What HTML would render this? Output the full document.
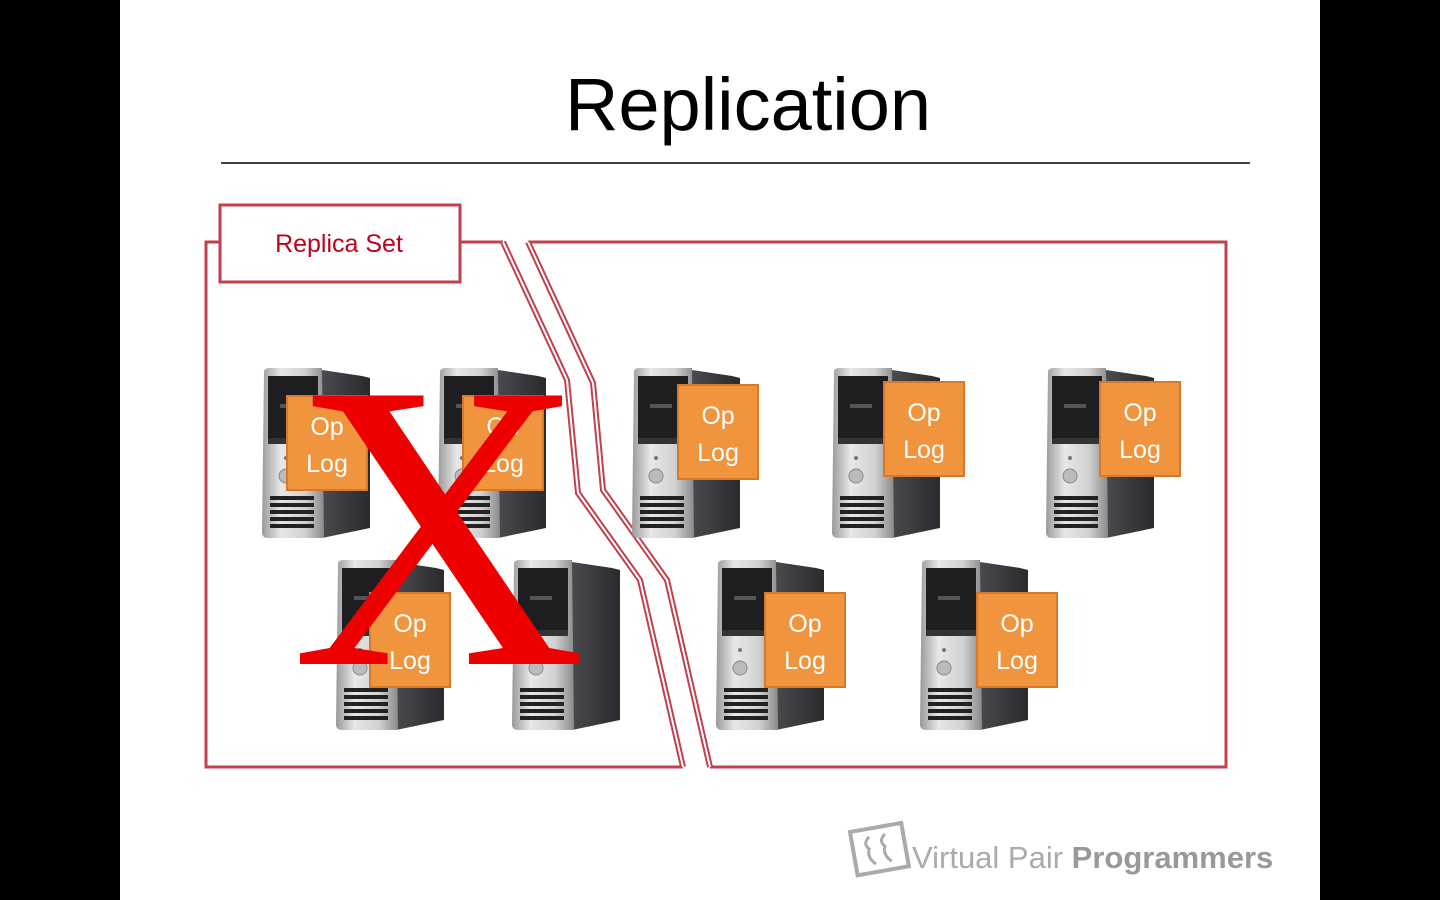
<!DOCTYPE html>
<html><head><meta charset="utf-8"><style>
html,body{margin:0;padding:0;background:#000;}
svg{display:block}
</style></head><body>
<svg width="1440" height="900" viewBox="0 0 1440 900" xmlns="http://www.w3.org/2000/svg">
<defs>
<linearGradient id="silver" x1="0" x2="1" y1="0" y2="0">
<stop offset="0" stop-color="#9a9a9a"/><stop offset="0.3" stop-color="#e8e8e8"/><stop offset="0.7" stop-color="#d0d0d0"/><stop offset="1" stop-color="#8a8a8a"/>
</linearGradient>
<linearGradient id="side" x1="0" x2="1"><stop offset="0" stop-color="#4a4a4e"/><stop offset="1" stop-color="#2a2a2e"/></linearGradient>
<g id="srv">
<path d="M60 2 L100 8 L108 10 L108 160 L60 170 Z" fill="url(#side)"/>
<path d="M2 4 Q2 0 8 0 L60 0 L62 170 L6 170 Q0 170 0 164 Z" fill="url(#silver)"/>
<rect x="6" y="8" width="50" height="62" fill="#1e1e20"/>
<rect x="18" y="36" width="22" height="4" fill="#555"/>
<rect x="6" y="70" width="50" height="6" fill="#333"/>
<circle cx="24" cy="90" r="2" fill="#777"/>
<circle cx="24" cy="108" r="7" fill="#bbb" stroke="#888"/>
<g fill="#222"><rect x="8" y="128" width="44" height="4"/><rect x="8" y="135" width="44" height="4"/><rect x="8" y="142" width="44" height="4"/><rect x="8" y="149" width="44" height="4"/><rect x="8" y="156" width="44" height="4"/></g>
</g>
<g id="op">
<rect x="0" y="0" width="80" height="94" fill="#f0953e" stroke="#d9782a" stroke-width="2"/>
<text x="40" y="39" text-anchor="middle" font-family="Liberation Sans, sans-serif" font-size="25" fill="#fff">Op</text>
<text x="40" y="76" text-anchor="middle" font-family="Liberation Sans, sans-serif" font-size="25" fill="#fff">Log</text>
</g>
</defs>
<rect x="120" y="0" width="1200" height="900" fill="#fff"/>
<text x="748" y="130" text-anchor="middle" font-family="Liberation Sans, sans-serif" font-size="74" fill="#000">Replication</text>
<line x1="221" y1="163" x2="1250" y2="163" stroke="#000" stroke-width="1.5"/>
<g fill="none" stroke="#c0404e" stroke-width="3">
<path d="M503 242 L206 242 L206 767 L683 767"/>
<path d="M528 242 L1226 242 L1226 767 L710 767"/>
</g>
<g fill="none" stroke-linejoin="miter">
<path d="M503 242 L567 380 L578 493 L640 580 L683 767" stroke="#c0404e" stroke-width="6"/>
<path d="M503 242 L567 380 L578 493 L640 580 L683 767" stroke="#fff" stroke-width="2"/>
<path d="M528 242 L593 383 L603 490 L667 580 L710 767" stroke="#c0404e" stroke-width="6"/>
<path d="M528 242 L593 383 L603 490 L667 580 L710 767" stroke="#fff" stroke-width="2"/>
</g>
<rect x="220" y="205" width="240" height="77" fill="#fff" stroke="#c0404e" stroke-width="3"/>
<text x="339" y="252" text-anchor="middle" font-family="Liberation Sans, sans-serif" font-size="25" fill="#c00018">Replica Set</text>
<use href="#srv" x="262" y="368"/><use href="#srv" x="438" y="368"/>
<use href="#srv" x="632" y="368"/><use href="#srv" x="832" y="368"/><use href="#srv" x="1046" y="368"/>
<use href="#srv" x="336" y="560"/><use href="#srv" x="512" y="560"/>
<use href="#srv" x="716" y="560"/><use href="#srv" x="920" y="560"/>
<use href="#op" x="287" y="396"/><use href="#op" x="463" y="396"/>
<use href="#op" x="678" y="385"/><use href="#op" x="884" y="382"/><use href="#op" x="1100" y="382"/>
<use href="#op" x="370" y="593"/><use href="#op" x="765" y="593"/><use href="#op" x="977" y="593"/>
<text x="439" y="664" text-anchor="middle" font-family="Liberation Serif, serif" font-size="410" fill="#ee0000">X</text>
<g transform="translate(850,832) rotate(-10)" fill="none" stroke="#aaa" stroke-width="4">
<rect x="0" y="0" width="52" height="44"/>
<path d="M18 8 Q10 14 16 20 Q12 28 20 36 M34 8 Q26 14 32 20 Q28 28 36 36" stroke-width="3"/>
</g>
<text x="912" y="868" font-family="Liberation Sans, sans-serif" font-size="31" fill="#aaa">Virtual Pair <tspan font-weight="bold" fill="#999">Programmers</tspan></text>
</svg>
</body></html>
